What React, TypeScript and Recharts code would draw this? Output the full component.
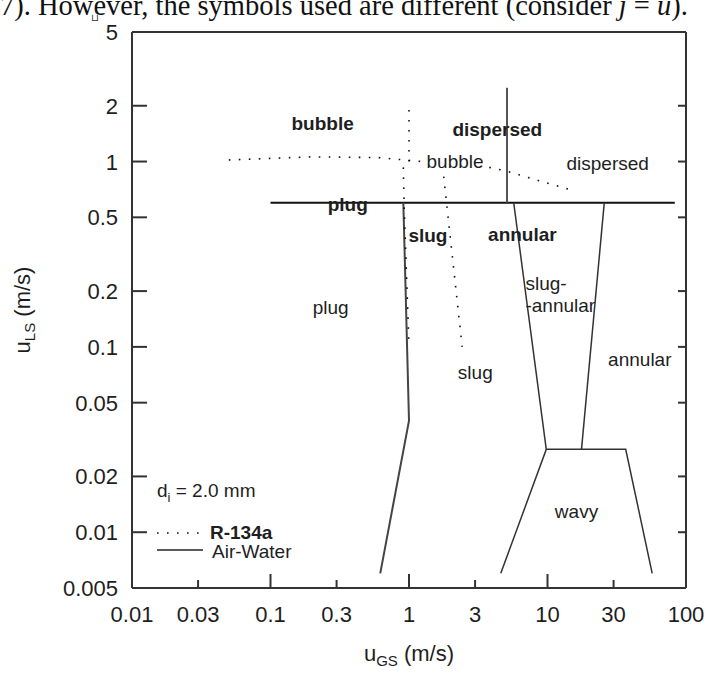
import React from 'react';
import { ComposedChart, Line, Scatter, XAxis, YAxis } from 'recharts';

// ---------- axis ticks ----------
const xTicks = [0.01, 0.03, 0.1, 0.3, 1, 3, 10, 30, 100];
const xTickLabels = ['0.01', '0.03', '0.1', '0.3', '1', '3', '10', '30', '100'];
const xMajorTicks = [0.01, 0.1, 1, 10, 100];
const yTicks = [0.005, 0.01, 0.02, 0.05, 0.1, 0.2, 0.5, 1, 2, 5];
const yTickLabels = ['0.005', '0.01', '0.02', '0.05', '0.1', '0.2', '0.5', '1', '2', '5'];

// ---------- Air-Water boundaries (solid) ----------
const awPlugTop = [{ x: 0.1, y: 0.6 }, { x: 83, y: 0.6 }];
const awDispersedDivide = [{ x: 5.1, y: 2.5 }, { x: 5.1, y: 0.6 }];
const awPlugSlug = [{ x: 0.91, y: 0.6 }, { x: 1.0, y: 0.04 }, { x: 0.62, y: 0.006 }];
const awSlugAnnularLeft = [{ x: 5.7, y: 0.6 }, { x: 9.8, y: 0.028 }, { x: 4.6, y: 0.006 }];
const awSlugAnnularRight = [{ x: 25.7, y: 0.6 }, { x: 17.6, y: 0.028 }];
const awWavy = [{ x: 9.8, y: 0.028 }, { x: 36.7, y: 0.028 }, { x: 57, y: 0.006 }];

// ---------- R-134a boundaries (dotted) ----------
const rBubbleA = [{ x: 0.05, y: 1.02 }, { x: 0.2, y: 1.06 }, { x: 0.6, y: 1.05 }, { x: 1.25, y: 1.0 }];
const rBubbleB = [{ x: 3.8, y: 0.93 }, { x: 5, y: 0.89 }, { x: 15, y: 0.7 }];
const rBubbleSlug = [{ x: 1.0, y: 1.9 }, { x: 1.0, y: 1.0 }];
const rPlugSlug = [{ x: 0.91, y: 0.93 }, { x: 0.92, y: 0.6 }, { x: 1.0, y: 0.1 }];
const rSlugAnnular = [{ x: 1.78, y: 0.83 }, { x: 2.42, y: 0.1 }];

// ---------- region labels ----------
const boldLabels = [
  { x: 0.238, y: 1.61, text: 'bubble' },
  { x: 4.34, y: 1.48, text: 'dispersed' },
  { x: 0.361, y: 0.59, text: 'plug' },
  { x: 1.37, y: 0.4, text: 'slug' },
  { x: 6.59, y: 0.406, text: 'annular' },
];
const normalLabels = [
  { x: 2.15, y: 1.0, text: 'bubble' },
  { x: 27.2, y: 0.97, text: 'dispersed' },
  { x: 0.272, y: 0.164, text: 'plug' },
  { x: 3.01, y: 0.073, text: 'slug' },
  { x: 46.4, y: 0.085, text: 'annular' },
  { x: 16.2, y: 0.013, text: 'wavy' },
];
const leftLabels = [
  { x: 6.93, y: 0.221, text: 'slug-' },
  { x: 6.93, y: 0.168, text: '-annular' },
];

const FONT = '"Liberation Sans", Arial, Helvetica, sans-serif';
const TXT = '#1e1e1e';
const AXIS = '#333';

const BottomTick = (props: any) => {
  const { x, y, payload } = props;
  const v = payload.value;
  const i = xTicks.indexOf(v);
  const major = xMajorTicks.includes(v);
  const edge = v === 0.01 || v === 100;
  return (
    <g>
      {!edge && <line x1={x} x2={x} y1={y} y2={y - (major ? 14 : 8)} stroke={AXIS} strokeWidth={2} />}
      <text x={x} y={y + 34} textAnchor="middle" fontSize={22} fontFamily={FONT} fill={TXT}>
        {xTickLabels[i]}
      </text>
    </g>
  );
};

const TopTick = (props: any) => {
  const { x, y, payload } = props;
  const v = payload.value;
  const major = xMajorTicks.includes(v);
  const edge = v === 0.01 || v === 100;
  if (edge) return <g />;
  return <line x1={x} x2={x} y1={y} y2={y + (major ? 14 : 7)} stroke={AXIS} strokeWidth={2} />;
};

const LeftTick = (props: any) => {
  const { x, y, payload } = props;
  const v = payload.value;
  const i = yTicks.indexOf(v);
  const edge = v === 0.005 || v === 5;
  return (
    <g>
      {!edge && <line x1={x} x2={x + 15} y1={y} y2={y} stroke={AXIS} strokeWidth={2} />}
      <text x={x - 14} y={y + 8} textAnchor="end" fontSize={22} fontFamily={FONT} fill={TXT}>
        {yTickLabels[i]}
      </text>
    </g>
  );
};

const RightTick = (props: any) => {
  const { x, y, payload } = props;
  const v = payload.value;
  const edge = v === 0.005 || v === 5;
  if (edge) return <g />;
  return <line x1={x} x2={x - 8} y1={y} y2={y} stroke={AXIS} strokeWidth={2} />;
};

const makeLabelShape = (weight: number, anchor: string) => (props: any) => {
  const { cx, cy, payload } = props;
  return (
    <text
      x={cx}
      y={cy}
      dy={6.5}
      textAnchor={anchor}
      fontSize={19}
      fontWeight={weight}
      fontFamily={FONT}
      fill={TXT}
    >
      {payload.text}
    </text>
  );
};
const BoldShape = makeLabelShape(700, 'middle');
const NormalShape = makeLabelShape(400, 'middle');
const LeftShape = makeLabelShape(400, 'start');

const DOT = '1.6 8.4';

export default function App() {
  const solid = (data: any[], key: string, color: string, w: number) => (
    <Line
      key={key}
      data={data}
      dataKey="y"
      type="linear"
      stroke={color}
      strokeWidth={w}
      dot={false}
      activeDot={false}
      isAnimationActive={false}
    />
  );
  const dotted = (data: any[], key: string) => (
    <Line
      key={key}
      data={data}
      dataKey="y"
      type="linear"
      stroke="#111"
      strokeWidth={1.6}
      strokeDasharray={DOT}
      dot={false}
      activeDot={false}
      isAnimationActive={false}
    />
  );
  return (
    <div style={{ position: 'absolute', left: 0, top: 0, width: 707, height: 673, background: '#fff' }}>
      <ComposedChart width={707} height={673} margin={{ top: 31, right: 20, bottom: 84, left: 131 }}>
        <XAxis
          xAxisId={0}
          dataKey="x"
          type="number"
          scale="log"
          domain={[0.01, 100]}
          allowDataOverflow
          ticks={xTicks}
          interval={0}
          height={1}
          tickSize={0}
          tickMargin={0}
          tickLine={false}
          axisLine={{ stroke: AXIS, strokeWidth: 2 }}
          tick={BottomTick}
        />
        <XAxis
          xAxisId="top"
          orientation="top"
          type="number"
          scale="log"
          domain={[0.01, 100]}
          allowDataOverflow
          ticks={xTicks}
          interval={0}
          height={1}
          tickSize={0}
          tickMargin={0}
          tickLine={false}
          axisLine={{ stroke: AXIS, strokeWidth: 2 }}
          tick={TopTick}
        />
        <YAxis
          yAxisId={0}
          type="number"
          scale="log"
          domain={[0.005, 5]}
          allowDataOverflow
          ticks={yTicks}
          interval={0}
          width={1}
          tickSize={0}
          tickMargin={0}
          tickLine={false}
          axisLine={{ stroke: AXIS, strokeWidth: 2 }}
          tick={LeftTick}
        />
        <YAxis
          yAxisId="right"
          orientation="right"
          type="number"
          scale="log"
          domain={[0.005, 5]}
          allowDataOverflow
          ticks={yTicks}
          interval={0}
          width={1}
          tickSize={0}
          tickMargin={0}
          tickLine={false}
          axisLine={{ stroke: AXIS, strokeWidth: 2 }}
          tick={RightTick}
        />
        {solid(awPlugTop, 'aw1', '#111', 2)}
        {solid(awDispersedDivide, 'aw2', '#555', 2)}
        {solid(awPlugSlug, 'aw3', '#444', 2)}
        {solid(awSlugAnnularLeft, 'aw4', '#333', 1.5)}
        {solid(awSlugAnnularRight, 'aw5', '#333', 1.5)}
        {solid(awWavy, 'aw6', '#333', 1.5)}
        {dotted(rBubbleA, 'r1')}
        {dotted(rBubbleB, 'r2')}
        {dotted(rBubbleSlug, 'r3')}
        {dotted(rPlugSlug, 'r4')}
        {dotted(rSlugAnnular, 'r5')}
        <Scatter data={boldLabels} dataKey="y" shape={BoldShape} isAnimationActive={false} />
        <Scatter data={normalLabels} dataKey="y" shape={NormalShape} isAnimationActive={false} />
        <Scatter data={leftLabels} dataKey="y" shape={LeftShape} isAnimationActive={false} />
      </ComposedChart>
      <svg
        width={707}
        height={673}
        style={{ position: 'absolute', left: 0, top: 0, pointerEvents: 'none' }}
      >
        <text x={0} y={15} fontSize={28.5} fontFamily='"Liberation Serif", "Times New Roman", serif' fill="#111">
          7). However, the symbols used are different (consider <tspan fontStyle="italic">j</tspan> ={' '}
          <tspan fontStyle="italic">u</tspan>).
        </text>
        <text x={91} y={21} fontSize={10} fontFamily='"DejaVu Sans", sans-serif' fill="#333">⊔</text>
        {/* legend */}
        <text x={157} y={497} fontSize={19} fontFamily={FONT} fill={TXT}>
          d<tspan fontSize={13} dy={5}>i</tspan>
          <tspan dy={-5}> = 2.0 mm</tspan>
        </text>
        <line x1={157} x2={204} y1={533} y2={533} stroke="#111" strokeWidth={1.6} strokeDasharray={DOT} />
        <text x={210} y={539} fontSize={19} fontWeight={700} fontFamily={FONT} fill={TXT}>R-134a</text>
        <line x1={157} x2={203} y1={550} y2={550} stroke="#222" strokeWidth={1.6} />
        <text x={212} y={558} fontSize={19} fontFamily={FONT} fill={TXT}>Air-Water</text>
        {/* axis titles */}
        <text x={409} y={661} textAnchor="middle" fontSize={22} fontFamily={FONT} fill={TXT}>
          u<tspan fontSize={15} dy={5}>GS</tspan>
          <tspan dy={-5}> (m/s)</tspan>
        </text>
        <text
          transform="translate(30,310) rotate(-90)"
          textAnchor="middle"
          fontSize={22}
          fontFamily={FONT}
          fill={TXT}
        >
          u<tspan fontSize={15} dy={5}>LS</tspan>
          <tspan dy={-5}> (m/s)</tspan>
        </text>
      </svg>
    </div>
  );
}
